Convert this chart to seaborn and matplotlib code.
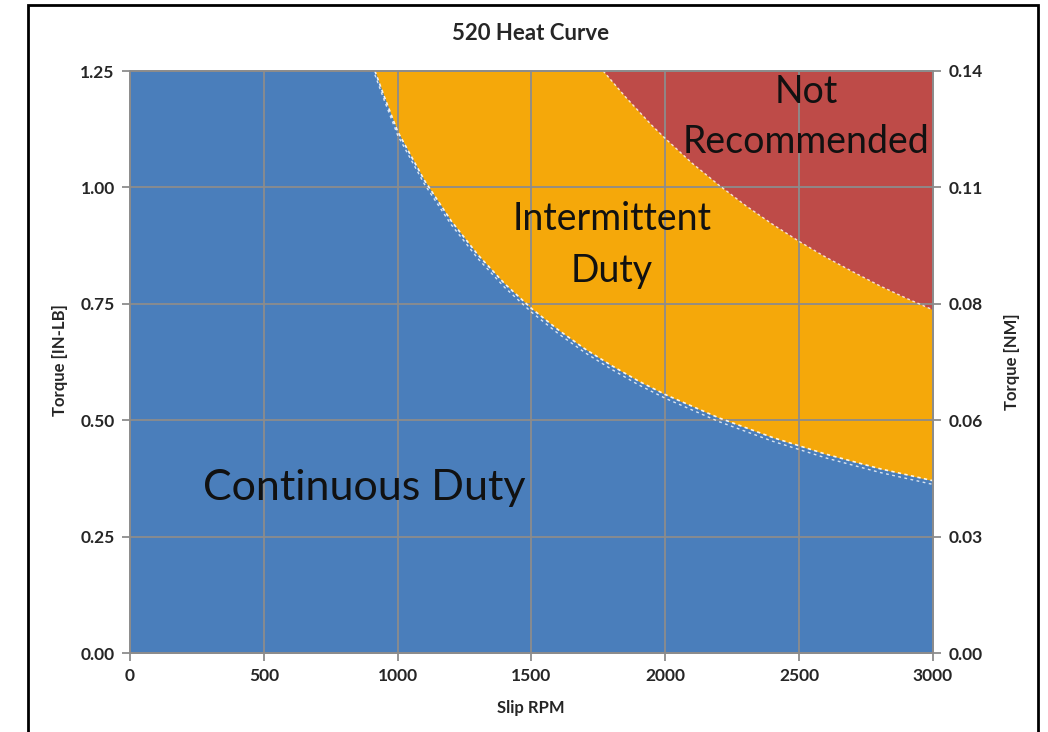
import matplotlib
matplotlib.use("Agg")
import matplotlib.pyplot as plt
import seaborn as sns
from matplotlib.patches import Rectangle

# boundary readings (Slip RPM -> Torque IN-LB)
cont_rpm = [915, 950, 1000, 1100, 1200, 1300, 1400, 1500, 1600, 1700, 1800,
            1900, 2000, 2200, 2400, 2600, 2800, 3000]
cont_torque = [1.25, 1.195, 1.12, 1.015, 0.928, 0.855, 0.793, 0.74, 0.694, 0.653,
               0.617, 0.584, 0.555, 0.505, 0.463, 0.427, 0.396, 0.37]
int_rpm = [1768, 1850, 1950, 2000, 2100, 2200, 2300, 2400, 2500, 2600, 2700,
           2800, 2900, 3000]
int_torque = [1.25, 1.195, 1.133, 1.105, 1.052, 1.005, 0.961, 0.921, 0.884,
              0.85, 0.819, 0.789, 0.762, 0.737]

x_ticks = [0, 500, 1000, 1500, 2000, 2500, 3000]
y_ticks = [0.00, 0.25, 0.50, 0.75, 1.00, 1.25]
nm_per_inlb = 0.113

BLUE = "#4A7EBB"
ORANGE = "#F5A80A"
RED = "#BE4B48"
GRID = "#8C8C8C"

sns.set_theme(style="white")
plt.rcParams["font.family"] = ["Lato", "DejaVu Sans"]

fig = plt.figure(figsize=(10.48, 7.32), dpi=100)
ax = fig.add_axes([130 / 1048, 79 / 732, 803 / 1048, 582 / 732])

xmax, ymax = x_ticks[-1], y_ticks[-1]

# regions
ax.fill_between([0, xmax], [ymax, ymax], 0, color=RED, lw=0, zorder=1)
ax.fill_between([0] + int_rpm, [ymax] + int_torque, 0, color=ORANGE, lw=0, zorder=1.1)
ax.fill_between([0] + cont_rpm, [ymax] + cont_torque, 0, color=BLUE, lw=0, zorder=1.2)

# white dotted boundary lines
sns.lineplot(x=cont_rpm, y=cont_torque, ax=ax, color="white", lw=1.2,
             linestyle=(0, (2, 2)), zorder=3, alpha=0.9)
sns.lineplot(x=cont_rpm, y=[t - 0.008 for t in cont_torque], ax=ax, color="white",
             lw=1.0, linestyle=(0, (2, 2.5)), zorder=3, alpha=0.8)
sns.lineplot(x=int_rpm, y=int_torque, ax=ax, color="white", lw=1.0,
             linestyle=(0, (2, 2)), zorder=3, alpha=0.8)

ax.set_xlim(0, xmax)
ax.set_ylim(0, ymax)
ax.set_xticks(x_ticks)
ax.set_yticks(y_ticks)
ax.set_yticklabels([f"{v:.2f}" for v in y_ticks])
ax.set_axisbelow(False)
ax.grid(True, color=GRID, lw=1.3, zorder=2.5)
for s in ax.spines.values():
    s.set_color(GRID)
    s.set_linewidth(1.3)
ax.tick_params(axis="both", which="major", length=6, width=1.3, color=GRID,
               labelsize=12.5, pad=5, direction="out", left=True, bottom=True)
for lab in ax.get_xticklabels() + ax.get_yticklabels():
    lab.set_fontweight("bold")

# right axis (Nm)
ax2 = ax.twinx()
ax2.set_ylim(0, ymax * nm_per_inlb)
ax2.set_yticks([v * nm_per_inlb for v in y_ticks])
ax2.set_yticklabels([f"{v * nm_per_inlb:.2f}" for v in y_ticks])
ax2.tick_params(axis="y", length=6, width=1.3, color=GRID, labelsize=12.5,
                pad=5, direction="out", right=True)
for lab in ax2.get_yticklabels():
    lab.set_fontweight("bold")
for s in ax2.spines.values():
    s.set_color(GRID)
    s.set_linewidth(1.3)

# region labels
ax.text(874, 0.3286, "Continuous Duty", fontsize=31, ha="center", va="baseline", color="#111111", zorder=5)
ax.text(1801, 0.9085, "Intermittent", fontsize=27, ha="center", va="baseline", color="#111111", zorder=5)
ax.text(1801, 0.7968, "Duty", fontsize=27, ha="center", va="baseline", color="#111111", zorder=5)
ax.text(2526, 1.1813, "Not", fontsize=27, ha="center", va="baseline", color="#111111", zorder=5)
ax.text(2526, 1.0739, "Recommended", fontsize=27, ha="center", va="baseline", color="#111111", zorder=5)

# titles and axis labels
fig.text(531 / 1048, 1 - 33 / 732, "520 Heat Curve", fontsize=16, fontweight="bold",
         ha="center", va="center")
fig.text(531 / 1048, 1 - 708 / 732, "Slip RPM", fontsize=12, fontweight="bold",
         ha="center", va="center")
fig.text(60 / 1048, 1 - 360 / 732, "Torque [IN-LB]", fontsize=12, fontweight="bold",
         rotation=90, ha="center", va="center")
fig.text(1012 / 1048, 1 - 362 / 732, "Torque [NM]", fontsize=12, fontweight="bold",
         rotation=90, ha="center", va="center")

# outer frame
fig.patches.append(Rectangle((28 / 1048, -0.05), 1010 / 1048, 1.05 - 5 / 732,
                             transform=fig.transFigure, fill=False,
                             edgecolor="black", lw=2))

fig.savefig("out.png", dpi=100)
